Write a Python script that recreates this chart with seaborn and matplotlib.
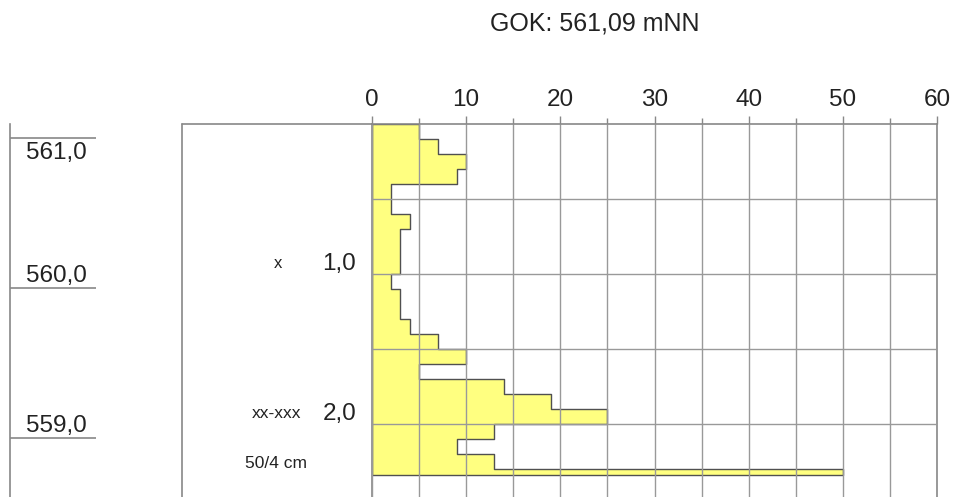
import matplotlib
matplotlib.use("Agg")
import matplotlib.pyplot as plt
import numpy as np
import pandas as pd
import seaborn as sns
from matplotlib.lines import Line2D

# Rammsondierung: Schlagzahlen je 10 cm (letzter Abschnitt 50/4 cm)
depth_top = [0.0, 0.1, 0.2, 0.3, 0.4, 0.5, 0.6, 0.7, 0.8, 0.9, 1.0, 1.1,
             1.2, 1.3, 1.4, 1.5, 1.6, 1.7, 1.8, 1.9, 2.0, 2.1, 2.2, 2.3]
depth_bottom = [0.1, 0.2, 0.3, 0.4, 0.5, 0.6, 0.7, 0.8, 0.9, 1.0, 1.1, 1.2,
                1.3, 1.4, 1.5, 1.6, 1.7, 1.8, 1.9, 2.0, 2.1, 2.2, 2.3, 2.34]
blows = [5, 7, 10, 9, 2, 2, 4, 3, 3, 3, 2, 3,
         3, 4, 7, 10, 5, 14, 19, 25, 13, 9, 13, 50]

gok = 561.09
elev_ticks = [561.0, 560.0, 559.0]
elev_labels = ["561,0", "560,0", "559,0"]
depth_ticks = [1.0, 2.0]
depth_labels = ["1,0", "2,0"]
x_ticks = [0, 10, 20, 30, 40, 50, 60]

df = pd.DataFrame({"top": depth_top, "bottom": depth_bottom, "n": blows})
df["mid"] = (df["top"] + df["bottom"]) / 2
edges = list(depth_top) + [depth_bottom[-1]]

sns.set_style("white")
plt.rcParams["font.family"] = ["Liberation Sans", "DejaVu Sans"]
plt.rcParams["text.color"] = "#222222"

W, H = 957, 497
fig = plt.figure(figsize=(W / 100, H / 100), dpi=100)

def fx(px):
    return px / W

def fy(py):
    return 1 - py / H

grid_col = "#999999"
frame_col = "#888888"

# Diagramm
x0, x1, y0 = 372, 937, 124
px_per_m = 150
ymax = (H - y0) / px_per_m
ax = fig.add_axes([fx(x0), 0, fx(x1) - fx(x0), fy(y0)])
sns.histplot(data=df, y="mid", weights="n", bins=edges, element="step",
             fill=True, color="#ffff80", alpha=1, edgecolor="#505050",
             linewidth=1.0, ax=ax, zorder=1)
ax.set_xlim(0, 60)
ax.set_ylim(ymax, 0)
ax.set_xlabel("")
ax.set_ylabel("")

ax.xaxis.tick_top()
ax.set_xticks(x_ticks)
ax.set_xticklabels([str(v) for v in x_ticks], fontsize=17.5, color="#222222")
ax.set_xticks(np.arange(5, 60, 10), minor=True)
ax.tick_params(axis="x", which="major", direction="out", length=6,
               width=1, color=frame_col, pad=3)
ax.tick_params(axis="x", which="minor", direction="out", length=4,
               width=1, color=frame_col)

ax.set_yticks(depth_ticks)
ax.set_yticklabels([])
ax.set_yticks([0.5, 1.5], minor=True)
ax.tick_params(axis="y", which="major", direction="out", length=6.5,
               width=1, color=frame_col)
ax.tick_params(axis="y", which="minor", length=0)

ax.grid(True, which="both", color=grid_col, linewidth=1.0, zorder=3)
ax.set_axisbelow(False)
for side in ["top", "right", "left"]:
    ax.spines[side].set_color(frame_col)
    ax.spines[side].set_linewidth(1.2)
ax.spines["bottom"].set_visible(False)

for d, lab in zip(depth_ticks, depth_labels):
    ax.annotate(lab, xy=(0, d), xycoords=("axes fraction", "data"),
                xytext=(-11.5, 3), textcoords="offset points",
                ha="right", va="baseline", fontsize=17.5)

# linker Kasten
fig.add_artist(Line2D([fx(182), fx(x0)], [fy(y0), fy(y0)],
                      color=frame_col, lw=1.2, transform=fig.transFigure))
fig.add_artist(Line2D([fx(182), fx(182)], [fy(y0), 0],
                      color=frame_col, lw=1.2, transform=fig.transFigure))

# Hoehenskala mNN
ax_el = fig.add_axes([fx(10), 0, fx(96) - fx(10), fy(y0)])
ax_el.set_ylim(gok - ymax, gok)
ax_el.set_xlim(0, 1)
ax_el.set_xticks([])
ax_el.set_yticks([])
for side in ["top", "right", "bottom"]:
    ax_el.spines[side].set_visible(False)
ax_el.spines["left"].set_color(frame_col)
ax_el.spines["left"].set_linewidth(1.2)
ax_el.patch.set_alpha(0)
ax_el.hlines(elev_ticks, 0, 1, color=frame_col, lw=1.2,
             transform=ax_el.get_yaxis_transform())
for i, (e, lab) in enumerate(zip(elev_ticks, elev_labels)):
    # oberste Beschriftung unter der Linie, sonst darueber
    if i == 0:
        ax_el.annotate(lab, xy=(16 / 86, e), xycoords=("axes fraction", "data"),
                       xytext=(0, -3), textcoords="offset points",
                       ha="left", va="top", fontsize=17.5)
    else:
        ax_el.annotate(lab, xy=(16 / 86, e), xycoords=("axes fraction", "data"),
                       xytext=(0, 4), textcoords="offset points",
                       ha="left", va="baseline", fontsize=17.5)

# Texte
fig.text(fx(595), fy(24), "GOK: 561,09 mNN", ha="center", va="center",
         fontsize=18)
fig.text(fx(277.5), fy(264), "x", ha="center", va="center", fontsize=12)
fig.text(fx(277), fy(413), "xx-xxx", ha="center", va="center", fontsize=12.5)
fig.text(fx(276), fy(463), "50/4 cm", ha="center", va="center", fontsize=12.5)

fig.savefig("out.png", dpi=100)
